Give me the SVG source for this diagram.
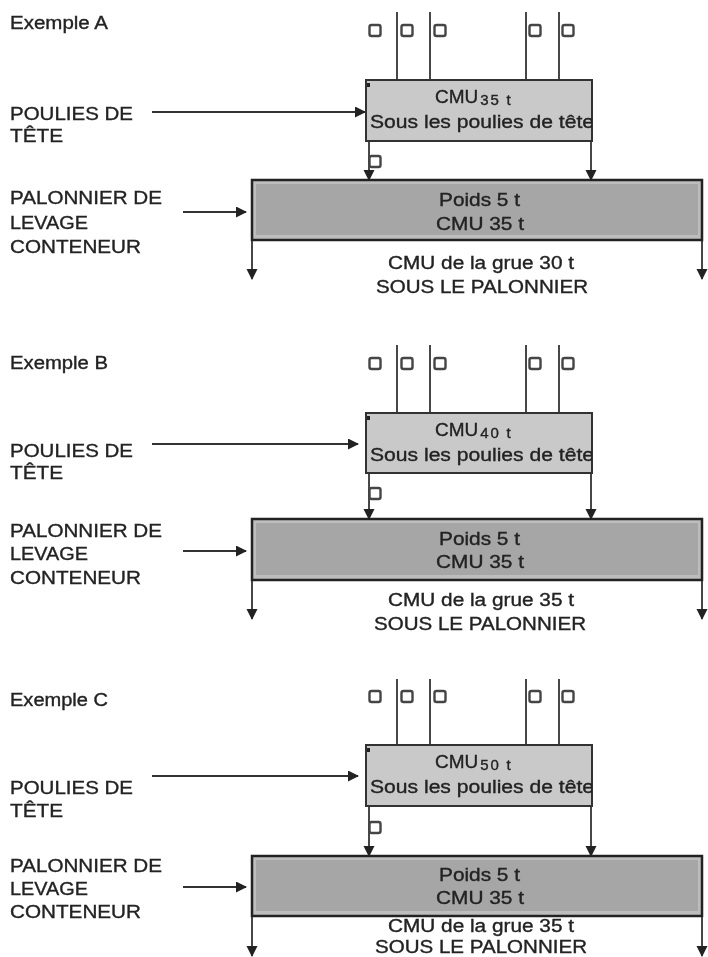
<svg xmlns="http://www.w3.org/2000/svg" width="708" height="957" viewBox="0 0 708 957">
<style>
text{font-family:"Liberation Sans",Arial,sans-serif;font-size:18px;fill:#222;stroke:#222;stroke-width:.35}
.m{font-size:19px}
.c{font-size:19px}
.s{font-size:15px;letter-spacing:1.800px}
.top{fill:#c9c9c9;stroke:#333;stroke-width:2}
.big{fill:#bdbdbd;stroke:#222;stroke-width:2.5}
.in{fill:#a6a6a6}
.l{stroke:#333;stroke-width:1.8;fill:none}
.p{fill:#fff;stroke:#444;stroke-width:2.4}
.a{fill:#222;stroke:none}
</style>
<defs>
<filter id="soft" filterUnits="userSpaceOnUse" x="0" y="0" width="708" height="957"><feGaussianBlur stdDeviation="0.45"/></filter>
<marker id="ah" markerWidth="12" markerHeight="12" refX="10" refY="5.500" orient="auto" markerUnits="userSpaceOnUse"><path d="M0 0L11 5.500L0 11Z" class="a"/></marker>
<clipPath id="c1"><rect x="366" y="80" width="226" height="61"/></clipPath>
<clipPath id="c2"><rect x="366" y="413" width="226" height="61"/></clipPath>
<clipPath id="c3"><rect x="366" y="745" width="226" height="61"/></clipPath>
</defs>
<rect width="708" height="957" fill="#fff"/>
<g filter="url(#soft)">
<g id="connectors">
<g class="l">
<path d="M152 112H365" marker-end="url(#ah)"/>
<path d="M183 212H246" marker-end="url(#ah)"/>
<path d="M369 141V180" marker-end="url(#ah)"/>
<path d="M591 141V180" marker-end="url(#ah)"/>
<path d="M252 240V279" marker-end="url(#ah)"/>
<path d="M702 240V279" marker-end="url(#ah)"/>
<path d="M152 444H358" marker-end="url(#ah)"/>
<path d="M183 551H246" marker-end="url(#ah)"/>
<path d="M369 473V519" marker-end="url(#ah)"/>
<path d="M591 473V519" marker-end="url(#ah)"/>
<path d="M252 580V619" marker-end="url(#ah)"/>
<path d="M702 580V619" marker-end="url(#ah)"/>
<path d="M152 776H358" marker-end="url(#ah)"/>
<path d="M183 887H246" marker-end="url(#ah)"/>
<path d="M369 806V856" marker-end="url(#ah)"/>
<path d="M591 806V856" marker-end="url(#ah)"/>
<path d="M252 916V956" marker-end="url(#ah)"/>
<path d="M702 916V956" marker-end="url(#ah)"/>
</g>
<path class="l" d="M397 12V80M430 12V80M526 12V80M559 12V80M397 345V413M430 345V413M526 345V413M559 345V413M397 679V745M430 679V745M526 679V745M559 679V745"/>
</g>

<g id="exemple-a">
<text x="10" y="29" textLength="98" lengthAdjust="spacingAndGlyphs">Exemple A</text>
<g id="poulies-a">
<rect class="p" x="369.500" y="25" width="11" height="11" rx="2"/><rect class="p" x="401.500" y="25" width="11" height="11" rx="2"/><rect class="p" x="434.500" y="25" width="11" height="11" rx="2"/><rect class="p" x="529.500" y="25" width="11" height="11" rx="2"/><rect class="p" x="562.500" y="25" width="11" height="11" rx="2"/>
<rect class="p" x="369.500" y="156" width="11" height="11" rx="2"/>
</g>
<text x="10" y="120" class="m" textLength="123" lengthAdjust="spacingAndGlyphs">POULIES DE</text>
<text x="10" y="142" class="m" textLength="53" lengthAdjust="spacingAndGlyphs">TÊTE</text>
<g id="tete-a">
<rect class="top" x="366" y="80" width="226" height="61"/>
<rect x="367" y="83" width="3" height="4" fill="#222"/>
<text x="435" y="103" class="c">CMU<tspan class="s" dx="2" dy="2">35 t</tspan></text>
<text x="370" y="128" clip-path="url(#c1)" textLength="224" lengthAdjust="spacingAndGlyphs">Sous les poulies de tête</text>
</g>
<text x="10" y="204" class="m" textLength="152" lengthAdjust="spacingAndGlyphs">PALONNIER DE</text>
<text x="10" y="229" class="m" textLength="78" lengthAdjust="spacingAndGlyphs">LEVAGE</text>
<text x="10" y="253" class="m" textLength="131" lengthAdjust="spacingAndGlyphs">CONTENEUR</text>
<g id="palonnier-a">
<rect class="big" x="252" y="180" width="450" height="60"/>
<rect class="in" x="256" y="184" width="442" height="51"/>
<text x="439" y="206" textLength="81" lengthAdjust="spacingAndGlyphs">Poids 5 t</text>
<text x="436" y="230" textLength="88" lengthAdjust="spacingAndGlyphs">CMU 35 t</text>
</g>
<text x="388" y="269" textLength="186" lengthAdjust="spacingAndGlyphs">CMU de la grue 30 t</text>
<text x="376" y="293" textLength="212" lengthAdjust="spacingAndGlyphs">SOUS LE PALONNIER</text>
</g>

<g id="exemple-b">
<text x="10" y="369" textLength="98" lengthAdjust="spacingAndGlyphs">Exemple B</text>
<g id="poulies-b">
<rect class="p" x="369.500" y="358" width="11" height="11" rx="2"/><rect class="p" x="401.500" y="358" width="11" height="11" rx="2"/><rect class="p" x="434.500" y="358" width="11" height="11" rx="2"/><rect class="p" x="529.500" y="358" width="11" height="11" rx="2"/><rect class="p" x="562.500" y="358" width="11" height="11" rx="2"/>
<rect class="p" x="369.500" y="488" width="11" height="11" rx="2"/>
</g>
<text x="10" y="457" class="m" textLength="123" lengthAdjust="spacingAndGlyphs">POULIES DE</text>
<text x="10" y="479" class="m" textLength="53" lengthAdjust="spacingAndGlyphs">TÊTE</text>
<g id="tete-b">
<rect class="top" x="366" y="413" width="226" height="60"/>
<rect x="367" y="416" width="3" height="4" fill="#222"/>
<text x="435" y="436" class="c">CMU<tspan class="s" dx="2" dy="2">40 t</tspan></text>
<text x="370" y="461" clip-path="url(#c2)" textLength="224" lengthAdjust="spacingAndGlyphs">Sous les poulies de tête</text>
</g>
<text x="10" y="537" class="m" textLength="152" lengthAdjust="spacingAndGlyphs">PALONNIER DE</text>
<text x="10" y="560" class="m" textLength="78" lengthAdjust="spacingAndGlyphs">LEVAGE</text>
<text x="10" y="584" class="m" textLength="131" lengthAdjust="spacingAndGlyphs">CONTENEUR</text>
<g id="palonnier-b">
<rect class="big" x="252" y="519" width="450" height="61"/>
<rect class="in" x="256" y="523" width="442" height="52"/>
<text x="439" y="545" textLength="81" lengthAdjust="spacingAndGlyphs">Poids 5 t</text>
<text x="436" y="568" textLength="88" lengthAdjust="spacingAndGlyphs">CMU 35 t</text>
</g>
<text x="388" y="606" textLength="186" lengthAdjust="spacingAndGlyphs">CMU de la grue 35 t</text>
<text x="374" y="630" textLength="212" lengthAdjust="spacingAndGlyphs">SOUS LE PALONNIER</text>
</g>

<g id="exemple-c">
<text x="10" y="706" textLength="98" lengthAdjust="spacingAndGlyphs">Exemple C</text>
<g id="poulies-c">
<rect class="p" x="369.500" y="691" width="11" height="11" rx="2"/><rect class="p" x="401.500" y="691" width="11" height="11" rx="2"/><rect class="p" x="434.500" y="691" width="11" height="11" rx="2"/><rect class="p" x="529.500" y="691" width="11" height="11" rx="2"/><rect class="p" x="562.500" y="691" width="11" height="11" rx="2"/>
<rect class="p" x="369.500" y="822" width="11" height="11" rx="2"/>
</g>
<text x="10" y="794" class="m" textLength="123" lengthAdjust="spacingAndGlyphs">POULIES DE</text>
<text x="10" y="817" class="m" textLength="53" lengthAdjust="spacingAndGlyphs">TÊTE</text>
<g id="tete-c">
<rect class="top" x="366" y="745" width="226" height="61"/>
<rect x="367" y="748" width="3" height="4" fill="#222"/>
<text x="435" y="768" class="c">CMU<tspan class="s" dx="2" dy="2">50 t</tspan></text>
<text x="370" y="793" clip-path="url(#c3)" textLength="224" lengthAdjust="spacingAndGlyphs">Sous les poulies de tête</text>
</g>
<text x="10" y="872" class="m" textLength="152" lengthAdjust="spacingAndGlyphs">PALONNIER DE</text>
<text x="10" y="895" class="m" textLength="78" lengthAdjust="spacingAndGlyphs">LEVAGE</text>
<text x="10" y="918" class="m" textLength="131" lengthAdjust="spacingAndGlyphs">CONTENEUR</text>
<g id="palonnier-c">
<rect class="big" x="252" y="856" width="450" height="60"/>
<rect class="in" x="256" y="860" width="442" height="51"/>
<text x="439" y="881" textLength="81" lengthAdjust="spacingAndGlyphs">Poids 5 t</text>
<text x="436" y="904" textLength="88" lengthAdjust="spacingAndGlyphs">CMU 35 t</text>
</g>
<text x="388" y="932" textLength="186" lengthAdjust="spacingAndGlyphs">CMU de la grue 35 t</text>
<text x="375" y="953" textLength="212" lengthAdjust="spacingAndGlyphs">SOUS LE PALONNIER</text>
</g>
</g>
</svg>
